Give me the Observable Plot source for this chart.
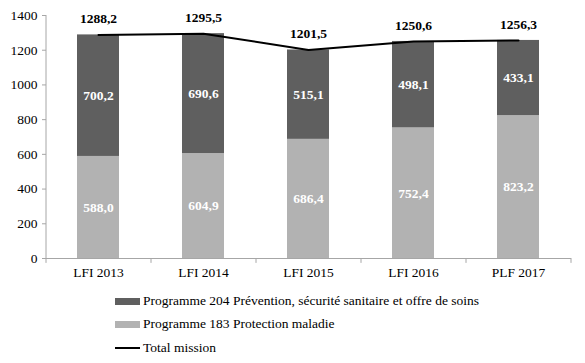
<!DOCTYPE html>
<html>
<head>
<meta charset="utf-8">
<script src="https://cdn.jsdelivr.net/npm/d3@7"></script>
<script src="https://cdn.jsdelivr.net/npm/@observablehq/plot@0.6"></script>
<style>
  body { margin: 0; background: #fff; font-family: "Liberation Serif", "Times New Roman", serif; }
  #wrap { position: relative; width: 585px; height: 363px; }
  .leg { position: absolute; left: 115px; display: flex; align-items: center; font-size: 13.5px; color: #000; white-space: nowrap; }
  .sw { width: 25px; height: 7px; margin-right: 3px; }
  .ln { width: 25px; height: 2px; background: #000; margin-right: 3px; }
</style>
</head>
<body>
<div id="wrap"></div>
<script>
const categories = ["LFI 2013", "LFI 2014", "LFI 2015", "LFI 2016", "PLF 2017"];
const prog183 = [588.0, 604.9, 686.4, 752.4, 823.2];
const prog204 = [700.2, 690.6, 515.1, 498.1, 433.1];
const totals = [1288.2, 1295.5, 1201.5, 1250.6, 1256.3];
const seriesNames = ["Programme 204 Prévention, sécurité sanitaire et offre de soins", "Programme 183 Protection maladie", "Total mission"];
const colors = ["#5f5f5f", "#b2b2b2", "#000000"];
const yTicks = [0, 200, 400, 600, 800, 1000, 1200, 1400];

const fmt = v => v.toFixed(1).replace(".", ",");

const rows = [];
categories.forEach((c, i) => {
  rows.push({cat: c, series: seriesNames[1], value: prog183[i], y1: 0, y2: prog183[i]});
  rows.push({cat: c, series: seriesNames[0], value: prog204[i], y1: prog183[i], y2: prog183[i] + prog204[i]});
});
const totalRows = categories.map((c, i) => ({cat: c, total: totals[i]}));

const half = 52.5;
const chart = Plot.plot({
  width: 585,
  height: 285,
  marginLeft: 46,
  marginRight: 14,
  marginTop: 15,
  marginBottom: 27,
  style: {fontFamily: "'Liberation Serif', 'Times New Roman', serif", fontSize: "13.5px", color: "#000", background: "#fff"},
  x: {domain: categories, paddingInner: 0.6, paddingOuter: 0.3, align: 0.5, label: null},
  y: {domain: [0, 1400], label: null},
  color: {domain: seriesNames.slice(0, 2), range: colors.slice(0, 2)},
  marks: [
    Plot.rectY(rows, {x: "cat", y1: "y1", y2: "y2", fill: "series"}),
    Plot.text(rows, {x: "cat", y: d => (d.y1 + d.y2) / 2, text: d => fmt(d.value), fill: "#fff", fontWeight: "bold", fontSize: 13.5}),
    Plot.line(totalRows, {x: "cat", y: "total", stroke: "#000", strokeWidth: 2}),
    Plot.text(totalRows, {x: "cat", y: "total", text: d => fmt(d.total), dy: -16, fill: "#000", fontWeight: "bold", fontSize: 13.5}),
    Plot.ruleY([0], {stroke: "#a6a6a6"}),
    Plot.ruleX(categories, {x: d => d, y1: 0, y2: -28, dx: -half, stroke: "#a6a6a6"}),
    Plot.ruleX(categories.slice(-1), {x: d => d, y1: 0, y2: -28, dx: half, stroke: "#a6a6a6"}),
    Plot.axisY({ticks: yTicks, tickSize: 4, tickPadding: 5, tickFormat: d => String(d), stroke: "#a6a6a6", fill: "#000"}),
    Plot.ruleX([0], {x: () => categories[0], dx: -half, y1: 0, y2: 1400, stroke: "#a6a6a6"}),
    Plot.axisX({tickSize: 0, tickPadding: 9, fill: "#000"})
  ]
});
chart.style.position = "absolute";
chart.style.left = "0px";
chart.style.top = "0px";
const wrap = document.getElementById("wrap");
wrap.appendChild(chart);

const legendY = [301, 324, 348];
seriesNames.forEach((name, i) => {
  const row = document.createElement("div");
  row.className = "leg";
  row.style.top = (legendY[i] - 9) + "px";
  row.style.height = "18px";
  const sw = document.createElement("div");
  if (i < 2) { sw.className = "sw"; sw.style.background = colors[i]; }
  else { sw.className = "ln"; }
  row.appendChild(sw);
  const t = document.createElement("span");
  t.textContent = name;
  row.appendChild(t);
  wrap.appendChild(row);
});
</script>
</body>
</html>
